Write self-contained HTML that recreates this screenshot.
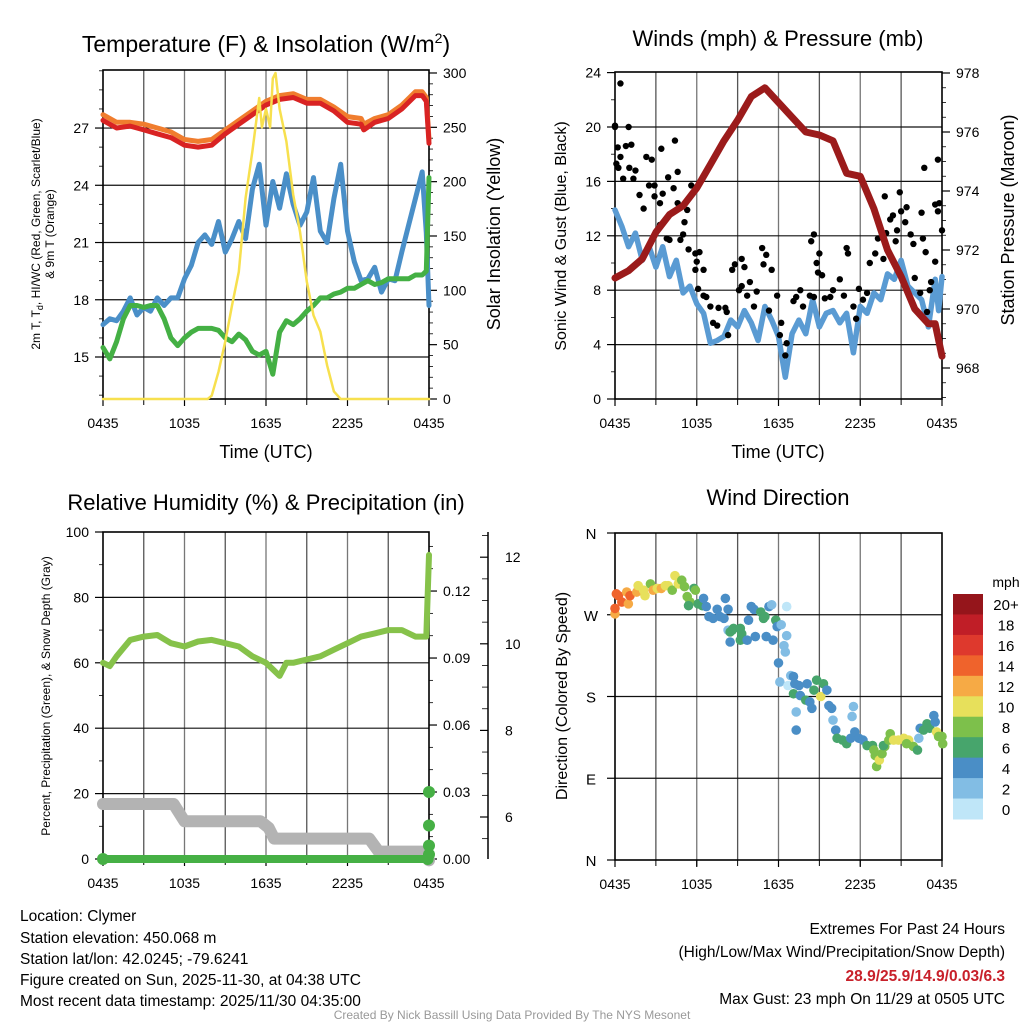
<!DOCTYPE html>
<html><head><meta charset="utf-8"><style>
body{margin:0;background:#fff;}
svg text{font-family:"Liberation Sans",sans-serif;fill:#000;}
</style></head><body>
<svg id="s" width="1024" height="1024" viewBox="0 0 1024 1024">
<text x="266" y="52" font-size="23" text-anchor="middle">Temperature (F) &amp; Insolation (W/m<tspan font-size="14" dy="-9">2</tspan><tspan dy="9">)</tspan></text>
<text x="778" y="46" font-size="22" text-anchor="middle">Winds (mph) &amp; Pressure (mb)</text>
<text x="266" y="510" font-size="22" text-anchor="middle">Relative Humidity (%) &amp; Precipitation (in)</text>
<text x="778" y="505" font-size="22" text-anchor="middle">Wind Direction</text>
<text x="266" y="458" font-size="18" text-anchor="middle">Time (UTC)</text>
<text x="778" y="458" font-size="18" text-anchor="middle">Time (UTC)</text>
<text transform="translate(40,234) rotate(-90)" font-size="12" text-anchor="middle">2m T, T<tspan font-size="9" dy="3">d</tspan><tspan dy="-3">, HI/WC (Red, Green, Scarlet/Blue)</tspan></text>
<text transform="translate(54,234) rotate(-90)" font-size="12" text-anchor="middle">&amp; 9m T (Orange)</text>
<text transform="translate(500,234) rotate(-90)" font-size="18" text-anchor="middle">Solar Insolation (Yellow)</text>
<text transform="translate(566,236) rotate(-90)" font-size="16" text-anchor="middle">Sonic Wind &amp; Gust (Blue, Black)</text>
<text transform="translate(1014,220) rotate(-90)" font-size="18" text-anchor="middle">Station Pressure (Maroon)</text>
<text transform="translate(50,696) rotate(-90)" font-size="12" text-anchor="middle">Percent, Precipitation (Green), &amp; Snow Depth (Gray)</text>
<text transform="translate(567,696) rotate(-90)" font-size="16" text-anchor="middle">Direction (Colored By Speed)</text>
<g font-size="15.5">
<text x="20" y="921">Location: Clymer</text>
<text x="20" y="943">Station elevation: 450.068 m</text>
<text x="20" y="964">Station lat/lon: 42.0245; -79.6241</text>
<text x="20" y="985">Figure created on Sun, 2025-11-30, at 04:38 UTC</text>
<text x="20" y="1006">Most recent data timestamp: 2025/11/30 04:35:00</text>
</g>
<g font-size="15.5" text-anchor="end">
<text x="1005" y="934">Extremes For Past 24 Hours</text>
<text x="1005" y="957">(High/Low/Max Wind/Precipitation/Snow Depth)</text>
<text x="1005" y="981" font-weight="bold" style="fill:#c8202a">28.9/25.9/14.9/0.03/6.3</text>
<text x="1005" y="1004">Max Gust: 23 mph On 11/29 at 0505 UTC</text>
</g>
<text x="512" y="1019" font-size="12" text-anchor="middle" style="fill:#999">Created By Nick Bassill Using Data Provided By The NYS Mesonet</text>
</svg>
<script>
// ---- Panel 1 data (hours since 0435) ----
const tRedH=[0,1,2,3,4,5,6,7,8,9,10,11,12,13,14,15,16,17,18,19,19.2,20,21,22,23,23.5,23.8,24];
const tRed=[27.4,27.0,27.1,26.9,26.7,26.5,26.1,26.0,26.1,26.7,27.2,27.7,28.2,28.5,28.6,28.3,28.3,27.9,27.3,27.2,26.9,27.3,27.5,28.0,28.7,28.7,28.4,26.2];
const tOrange=[27.7,27.3,27.3,27.2,27.0,26.8,26.4,26.3,26.4,26.9,27.4,27.9,28.4,28.7,28.8,28.5,28.5,28.1,27.6,27.5,27.2,27.5,27.7,28.2,28.9,28.9,28.6,26.4];
const tBlueH=[0,0.5,1,1.5,2,2.5,3,3.5,4,4.5,5,5.5,6,6.5,7,7.5,8,8.5,9,9.5,10,10.5,11,11.5,12,12.5,13,13.5,14,14.5,15,15.5,16,16.5,17,17.5,18,18.5,19,19.5,20,20.5,21,21.5,22,22.5,23,23.5,23.8,24];
const tBlue=[16.7,17.0,16.9,17.4,18.1,17.2,17.6,17.4,18.1,17.7,18.1,18.1,19.1,19.8,21.0,21.4,20.9,22.1,20.5,21.2,22.1,21.2,23.8,25.1,21.9,24.2,22.8,24.6,23.0,21.9,22.6,24.4,21.6,21.0,23.3,25.1,21.6,20.0,19.0,19.1,19.7,18.4,19.1,19.0,20.5,21.9,23.3,24.7,21.5,17.7];
const tGreen=[15.5,14.9,15.8,17.0,17.7,17.7,17.6,17.7,17.7,17.0,16.0,15.6,16.0,16.3,16.5,16.5,16.5,16.4,16.0,15.8,16.2,15.9,15.3,15.1,15.3,14.1,16.3,16.9,16.7,17.0,17.4,17.7,18.1,18.1,18.3,18.4,18.6,18.6,18.8,19.0,18.8,18.9,19.1,19.1,19.1,19.1,19.3,19.3,19.5,24.4];
const solH=[0,7.7,8,8.5,9,9.5,10,10.5,11,11.5,11.7,12,12.3,12.5,12.7,13,13.5,14,14.5,15,15.5,16,16.5,17,17.5,24];
const solW=[0,0,3,25,53,86,117,185,228,277,250,267,250,295,300,267,237,188,154,108,77,62,31,7,0,0];
// ---- Panel 2 data ----
const windH=[0,0.5,1,1.5,2,2.5,3,3.5,4,4.5,5,5.5,6,6.5,7,7.5,8,8.5,9,9.5,10,10.5,11,11.5,12,12.5,13,13.5,14,14.5,15,15.5,16,16.5,17,17.5,18,18.5,19,19.5,20,20.5,21,21.5,22,22.5,23,23.5,23.75,24];
const wind=[13.9,12.7,11.2,12.2,10.2,11.2,9.7,11.2,9.0,10.2,7.8,8.3,7.0,6.3,4.1,4.3,4.6,5.8,5.3,6.5,5.6,4.3,6.8,5.8,4.6,1.6,4.8,5.8,4.8,7.3,5.3,6.3,6.5,5.6,6.3,3.4,6.8,6.3,7.8,7.3,9.2,8.8,10.2,8.3,7.8,7.3,5.3,8.8,6.5,9.0];
const presH=[0,1,2,3,4,5,6,7,8,9,10,11,12,13,14,15,16,17,18,19,20,21,22,23,23.5,24];
const pres=[971.05,971.3,971.7,972.6,973.2,973.5,974.1,974.9,975.7,976.4,977.2,977.5,977.0,976.5,976.0,975.9,975.7,974.6,974.5,973.4,972.0,971.1,970.0,969.5,969.5,968.4];
const gustH=[0.4,0.0,0.0,1.0,0.2,0.1,0.25,0.4,0.8,1.2,1.05,1.5,1.35,0.6,2.3,2.7,3.4,4.4,3.9,4.6,4.3,1.8,2.5,2.9,2.9,2.1,3.3,3.5,4.6,5.3,5.6,5.1,3.3,3.8,4.0,4.8,5.0,5.4,5.9,6.0,6.2,5.9,6.5,6.1,6.5,6.7,7.0,7.2,7.5,7.6,8.1,8.3,8.2,8.6,8.8,9.1,9.3,9.3,9.5,9.7,9.9,10.2,10.4,10.8,10.9,11.1,11.5,11.3,11.9,12.1,12.2,12.6,12.5,13.1,13.3,13.6,13.8,14.3,14.6,14.4,14.8,15.0,14.9,15.2,14.6,15.4,15.8,16.0,16.5,16.8,17.0,17.1,17.5,17.7,17.9,18.2,18.5,18.7,19.1,19.3,19.6,19.8,19.7,19.9,20.2,20.4,20.6,20.7,20.9,21.0,21.3,21.4,21.7,21.9,22.0,22.4,22.5,22.8,22.6,22.9,23.1,23.2,23.5,23.7,22.7,23.5,23.8,24.0,23.7];
const gust=[23.2,20.1,20.0,20.0,18.5,17.3,17.0,17.8,18.6,18.7,17.0,16.8,16.2,16.2,17.8,17.6,18.4,19.0,16.3,16.7,15.5,15.0,15.7,15.7,14.9,14.0,14.4,15.1,14.4,13.9,15.7,13.0,12.8,11.8,11.7,11.7,12.1,11.0,10.7,10.1,10.8,9.5,9.5,8.1,7.6,7.5,6.8,5.6,5.4,6.7,6.7,4.7,6.4,9.5,9.9,8.0,8.3,10.3,9.7,7.6,8.6,6.8,7.9,11.1,9.9,10.6,9.5,6.5,7.6,4.7,5.6,4.1,3.2,7.2,7.5,8.0,6.8,7.6,12.1,11.6,10.0,10.7,9.3,9.1,7.5,7.4,7.5,8.0,8.8,7.6,11.1,10.7,6.8,5.9,8.1,7.3,7.8,10.0,10.7,11.8,12.1,14.9,10.3,12.2,13.2,13.5,11.6,12.4,15.2,13.8,13.0,14.1,12.1,11.4,8.9,7.8,13.7,10.8,11.8,6.4,8.0,8.6,10.1,17.6,17.0,14.3,14.4,12.4,13.8];
// ---- Panel 3 data ----
const rhH=[0,0.5,1,2,3,4,5,6,7,8,9,10,11,12,12.5,13,13.5,14,15,16,17,18,19,20,21,22,23,23.8,24];
const rh=[60,59,62,67,68,68.5,66,65,66.5,67,66,65,62,60,58,56,60,60,61,62,64,66,68,69,70,70,68,68,93];
const snowH=[0,5.2,6.0,11.6,12.2,12.6,13.8,14.2,19.6,20.3,23.8,24];
const snow=[6.3,6.3,5.9,5.9,5.75,5.5,5.5,5.5,5.5,5.2,5.2,5.0];
const precipH=[0,23.9,24,24,24,24];
const precip=[0,0,0.002,0.006,0.015,0.03];
// ---- Panel 4 data ----
const dirH=[0,0,0.1,0.25,0.5,0.98,0.86,1.1,1.6,1.7,2.2,2.1,2.6,2.8,3.1,3.4,3.7,3.9,4.2,4.4,4.65,4.9,5.1,5.3,5.5,5.4,5.8,5.9,6.1,6.4,6.5,6.7,6.9,7.2,7.5,7.7,8.0,8.1,8.3,8.3,8.45,8.6,8.7,9.2,9.3,8.45,9.2,9.7,9.8,10.0,10.2,10.3,10.7,10.9,11.0,11.3,11.5,11.1,11.6,11.8,11.9,12.2,12.6,12.6,12.4,12.5,12.0,12.1,12.9,12.7,13.1,13.2,13.5,13.1,13.6,14.1,14.0,13.3,13.3,14.3,14.45,14.6,14.8,15.1,15.3,15.55,15.7,15.9,16.0,16.2,16.3,16.7,17.0,17.3,17.4,17.5,17.6,17.9,18.2,18.5,18.9,19.0,19.1,19.2,19.4,19.6,19.8,19.7,20.2,20.1,20.45,20.8,21.2,21.55,21.4,21.9,22.2,22.3,22.4,22.65,22.9,23.1,23.4,23.5,23.6,23.75,24.0,24.05];
const dirDeg=[271,277,293,291,284,282,295,291,295,302,291,297,304,297,299,299,302,302,297,313,304,308,301,290,284,280,299,297,282,280,288,279,268,266,276,268,266,288,276,253,251,253,255,255,249,240,242,242,264,279,276,246,273,266,268,279,281,246,242,264,257,259,279,247,236,229,217,196,203,192,202,194,192,183,181,194,176,163,143,174,167,187,198,180,194,187,170,167,154,143,134,132,128,134,158,169,141,134,132,126,126,121,115,103,110,117,125,126,139,132,132,132,134,132,128,125,121,134,145,143,150,145,159,152,141,136,136,128];
const dirSpd=[13,15,15,15,15,13,13,15,13,11,11,11,9,13,11,13,11,11,9,11,11,9,9,9,9,7,7,9,7,7,5,5,5,5,5,5,5,5,5,3,7,7,7,7,7,5,7,5,5,5,5,5,7,7,7,5,3,5,5,7,5,3,1,3,3,3,5,3,3,1,5,5,5,7,5,5,7,3,5,5,5,7,7,11,7,5,5,5,3,5,7,7,7,5,3,3,5,5,5,7,7,9,9,9,11,9,9,7,9,9,11,11,11,11,9,9,7,3,5,7,7,7,5,5,11,9,9,9];
const spdColors=['#bfe6f8','#82bde4','#4a8ec6','#47a56c','#7dc04b','#e7e05b','#f6aa45','#ef632c','#de392d','#c01e27','#95151b'];
const cbLabels=['20+','18','16','14','12','10','8','6','4','2','0'];
const xTickLabels=['0435','1035','1635','2235','0435'];

const S=document.getElementById('s');
const NS='http://www.w3.org/2000/svg';
function mk(tag,attrs,parent){const e=document.createElementNS(NS,tag);for(const k in attrs)e.setAttribute(k,attrs[k]);(parent||S).appendChild(e);return e;}
function txt(x,y,s,size,anchor){const t=mk('text',{x:x,y:y,'font-size':size,'text-anchor':anchor});t.textContent=s;return t;}
function lin(x1,y1,x2,y2,c,w){return mk('line',{x1:x1,y1:y1,x2:x2,y2:y2,stroke:c,'stroke-width':w});}
function poly(hs,vs,xf,yf,c,w,name){const p=hs.map((h,i)=>xf(h).toFixed(1)+','+yf(vs[i]).toFixed(1)).join(' ');const e=mk('polyline',{points:p,fill:'none',stroke:c,'stroke-width':w,'stroke-linejoin':'round','stroke-linecap':'round'});

return e;}

function frame(x0,x1,y0,y1,hgrid,name){
  const g=mk('g',{});
  
  
  for(let i=1;i<8;i++){const x=x0+(x1-x0)*i/8;mk('line',{x1:x,y1:y0,x2:x,y2:y1,stroke:i%2?'#555':'#777','stroke-width':1.3},g);mk('line',{x1:x,y1:y1,x2:x,y2:y1+6,stroke:'#000','stroke-width':1},g);}
  hgrid.forEach(y=>mk('line',{x1:x0,y1:y,x2:x1,y2:y,stroke:'#111','stroke-width':1.2},g));
  mk('rect',{x:x0,y:y0,width:x1-x0,height:y1-y0,fill:'none',stroke:'#000','stroke-width':1.6},g);
  for(let i=0;i<=4;i++){const x=x0+(x1-x0)*i/4;mk('line',{x1:x,y1:y1,x2:x,y2:y1+7,stroke:'#000','stroke-width':1.2},g);const t=txt(x,y1+29,xTickLabels[i],14,'middle');g.appendChild(t);}
  return g;
}
function yticks(x,vals,yf,side,fmt,minorVals){
  vals.forEach(v=>{const y=yf(v);lin(x,y,x+side*8,y,'#000',1.2);const t=txt(x+side*14,y+5,fmt(v),14,side<0?'end':'start');
  
  });
  (minorVals||[]).forEach(v=>{const y=yf(v);lin(x,y,x+side*4,y,'#000',0.8);});
}

// ===== Panel 1 =====
{const x0=103,x1=429,y0=70,y1=399;const X=h=>x0+(x1-x0)*h/24;const T=t=>357-(t-15)*19.08;const W=w=>399-w*1.0867;
frame(x0,x1,y0,y1,[15,18,21,24,27].map(T),'temperature-panel');
yticks(x0,[15,18,21,24,27],T,-1,v=>String(v),[13,14,16,17,19,20,22,23,25,26,28,29,30]);
const mn=[];for(let v=10;v<=300;v+=10)if(v%50)mn.push(v);
yticks(x1,[0,50,100,150,200,250,300],W,1,v=>String(v),mn);
poly(tRedH,tOrange,X,T,'#f07d2e',5,'temp-9m-orange-line');
poly(tRedH,tRed,X,T,'#d92323',5,'temp-2m-red-line');
poly(tBlueH,tBlue,X,T,'#4a8fc8',5,'heat-index-blue-line');
poly(tBlueH,tGreen,X,T,'#44b044',5,'dewpoint-green-line');
poly(solH,solW,X,W,'#f7e04e',2.5,'insolation-yellow-line');}

// ===== Panel 2 =====
{const x0=615,x1=942,y0=72,y1=399;const X=h=>x0+(x1-x0)*h/24;const M=m=>399-m*13.6;const P=p=>368-(p-968)*29.5;
frame(x0,x1,y0,y1,[4,8,12,16,20].map(M),'winds-panel');
yticks(x0,[0,4,8,12,16,20,24],M,-1,v=>String(v),[2,6,10,14,18,22]);
const mn=[];for(let p=967;p<=978;p+=0.5)if(p%2)mn.push(p);
yticks(x1,[968,970,972,974,976,978],P,1,v=>String(v),mn);
poly(windH,wind,X,M,'#5a9bd3',5.5,'sonic-wind-blue-line');
gustH.forEach((h,i)=>{const c=mk('circle',{cx:X(h),cy:M(gust[i]),r:3.2,fill:'#000'});

});
poly(presH,pres,X,P,'#9b1b1b',7,'pressure-maroon-line');}

// ===== Panel 3 =====
{const x0=103,x1=429,y0=532,y1=859;const X=h=>x0+(x1-x0)*h/24;const R=r=>859-r*3.27;const PR=p=>859-p*2233;const SN=s=>817-(s-6)*43.3;
frame(x0,x1,y0,y1,[20,40,60,80].map(R),'humidity-panel');
yticks(x0,[0,20,40,60,80,100],R,-1,v=>String(v),[10,30,50,70,90]);
const mn=[];for(let i=1;i<=14;i++)if(i%3)mn.push(i*0.01);
yticks(x1,[0,0.03,0.06,0.09,0.12],PR,1,v=>v.toFixed(2),mn);
lin(488,532,488,859,'#000',1.5);
const smn=[];for(let s=5.5;s<=12.5;s+=0.5)if(s%2)smn.push(s);
smn.forEach(s=>lin(488,SN(s),482,SN(s),'#000',0.8));
[6,8,10,12].forEach(s=>{lin(488,SN(s),480,SN(s),'#000',1.2);const t=txt(505,SN(s)+5,String(s),14,'start');

});
poly(snowH,snow,X,SN,'#b3b3b3',12,'snow-depth-gray-line');
poly(precipH.slice(0,2),precip.slice(0,2),X,PR,'#46b045',8,'precip-green-line');
precipH.forEach((h,i)=>{const c=mk('circle',{cx:X(h),cy:PR(precip[i]),r:6,fill:'#46b045'});

});
poly(rhH,rh,X,R,'#86c24a',6,'rh-green-line');}

// ===== Panel 4 =====
{const x0=615,x1=942,y0=533,y1=860;const X=h=>x0+(x1-x0)*h/24;const D=d=>860-d*(327/360);
frame(x0,x1,y0,y1,[90,180,270].map(D),'wind-direction-panel');
[[360,'N'],[270,'W'],[180,'S'],[90,'E'],[0,'N']].forEach(([d,l])=>{lin(x0,D(d),x0-8,D(d),'#000',1.2);const t=txt(591,D(d)+6,l,15,'middle');

});
dirH.forEach((h,i)=>{const b=Math.min(10,Math.floor(dirSpd[i]/2));const c=mk('circle',{cx:X(h),cy:D(dirDeg[i]),r:4.8,fill:spdColors[b]});

});
const cb=mk('g',{});


const bh=(819-594)/11;
cbLabels.forEach((l,i)=>{mk('rect',{x:953,y:594+i*bh,width:30,height:bh+0.5,fill:spdColors[10-i]},cb);const t=txt(1006,594+i*bh+bh/2+6,l,15,'middle');cb.appendChild(t);});
const u=txt(1006,587,'mph',14,'middle');cb.appendChild(u);}
</script>
</body></html>
